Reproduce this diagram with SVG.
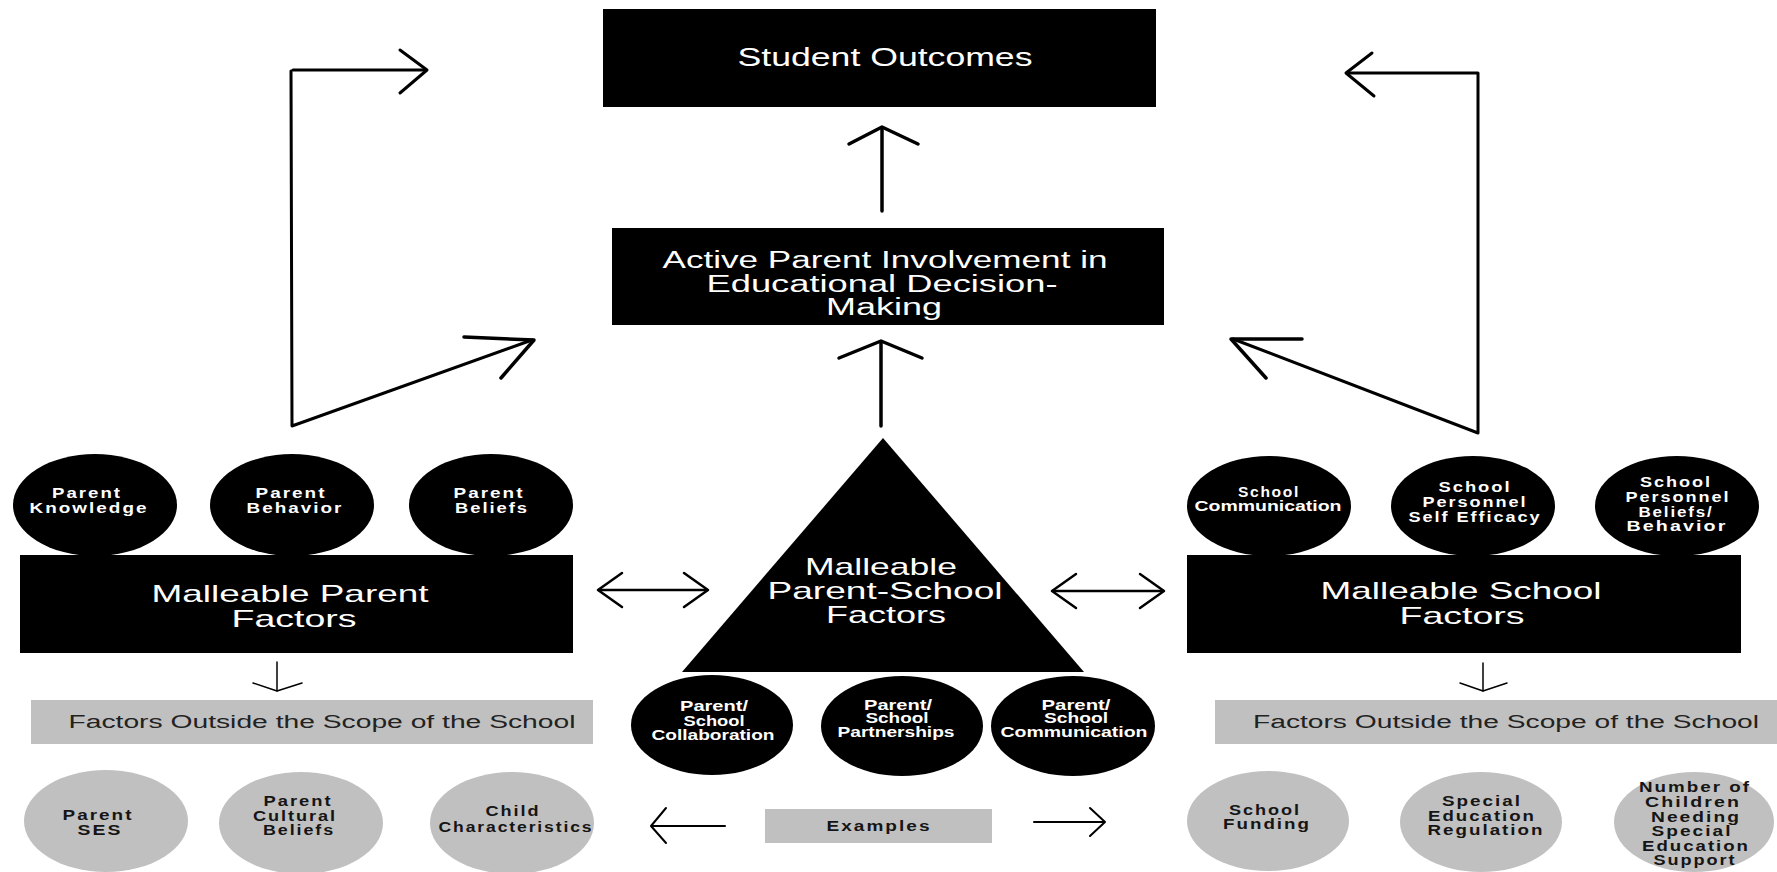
<svg xmlns="http://www.w3.org/2000/svg" width="1777" height="872" viewBox="0 0 1777 872">
<defs>
<style>
.blk{fill:#000}
.gry{fill:#c0c0c0}
.big{font-family:"Liberation Sans",Arial,sans-serif;fill:#fff;text-anchor:middle}
.f26{font-size:26px}
.f24{font-size:24px}
.f23{font-size:23px}
.sm{font-family:"Liberation Sans",Arial,sans-serif;font-size:14px;font-weight:bold;fill:#fff;text-anchor:middle}
.sp{letter-spacing:1.5px}
.gt{font-family:"Liberation Sans",Arial,sans-serif;font-size:14px;font-weight:bold;fill:#151515;text-anchor:middle;letter-spacing:1.5px}
.gl{font-family:"Liberation Sans",Arial,sans-serif;font-size:18px;fill:#222;text-anchor:middle}
.ln{stroke:#000;fill:none;stroke-linecap:round;stroke-linejoin:round}
.w35{stroke-width:3.5}
.w3{stroke-width:3}
.w25{stroke-width:2.5}
.w2{stroke-width:2}
.w15{stroke-width:1.5}
</style>
</defs>
<rect width="1777" height="872" fill="#fff"/>

<g id="connectors">
  <line class="ln w35" x1="882" y1="211" x2="882" y2="129"/>
  <polyline class="ln w35" points="849,144 882,127 918,144"/>
  <line class="ln w35" x1="881" y1="426" x2="881" y2="343"/>
  <polyline class="ln w35" points="839,358 881,341 922,358"/>
  <polyline class="ln w3" points="425,70 293,70"/>
  <polyline class="ln w3" points="291,71 292,426 532,340"/>
  <polyline class="ln w3" points="400,50 427,70 400,93"/>
  <polyline class="ln w35" points="464,337 534,340 501,378"/>
  <polyline class="ln w3" points="1348,73 1478,73 1478,433 1233,339"/>
  <polyline class="ln w3" points="1372,53 1346,73 1374,96"/>
  <polyline class="ln w35" points="1302,339 1231,339 1266,378"/>
  <line class="ln w25" x1="599" y1="590" x2="707" y2="590"/>
  <polyline class="ln w25" points="622,573 598,590 622,607"/>
  <polyline class="ln w25" points="684,573 708,590 684,607"/>
  <line class="ln w25" x1="1053" y1="591" x2="1163" y2="591"/>
  <polyline class="ln w25" points="1076,574 1052,591 1076,608"/>
  <polyline class="ln w25" points="1140,574 1164,591 1140,608"/>
  <line class="ln w15" x1="277" y1="662" x2="277" y2="691"/>
  <polyline class="ln w15" points="253,683 277,691 302,683"/>
  <line class="ln w15" x1="1483" y1="663" x2="1483" y2="691"/>
  <polyline class="ln w15" points="1460,683 1483,691 1507,683"/>
  <line class="ln w2" x1="652" y1="826" x2="725" y2="826"/>
  <polyline class="ln w2" points="666,808 651,826 666,843"/>
  <line class="ln w2" x1="1034" y1="822" x2="1104" y2="822"/>
  <polyline class="ln w2" points="1090,808 1105,822 1090,836"/>
</g>

<g id="student-outcomes">
  <rect class="blk" x="603" y="9" width="553" height="98"/>
  <text class="big f26" x="885" y="66" textLength="295" lengthAdjust="spacingAndGlyphs">Student Outcomes</text>
</g>

<g id="active-involvement">
  <rect class="blk" x="612" y="228" width="552" height="97"/>
  <text class="big f23" x="885" y="268" textLength="445" lengthAdjust="spacingAndGlyphs">Active Parent Involvement in</text>
  <text class="big f23" x="882" y="292" textLength="351" lengthAdjust="spacingAndGlyphs">Educational Decision-</text>
  <text class="big f23" x="884" y="315" textLength="116" lengthAdjust="spacingAndGlyphs">Making</text>
</g>

<g id="parent-school-factors">
  <polygon class="blk" points="883,438 682,672 1084,672"/>
  <text class="big f24" x="881" y="575" textLength="152" lengthAdjust="spacingAndGlyphs">Malleable</text>
  <text class="big f24" x="885" y="599" textLength="235" lengthAdjust="spacingAndGlyphs">Parent-School</text>
  <text class="big f24" x="886" y="623" textLength="120" lengthAdjust="spacingAndGlyphs">Factors</text>
</g>

<g id="parent-factors">
  <rect class="blk" x="20" y="555" width="553" height="98"/>
  <text class="big f24" x="290" y="602" textLength="277" lengthAdjust="spacingAndGlyphs">Malleable Parent</text>
  <text class="big f24" x="294" y="627" textLength="125" lengthAdjust="spacingAndGlyphs">Factors</text>
</g>

<g id="parent-knowledge">
  <ellipse class="blk" cx="95" cy="505" rx="82" ry="51"/>
  <text class="sm sp" x="87" y="498" textLength="70" lengthAdjust="spacingAndGlyphs">Parent</text>
  <text class="sm sp" x="89" y="513" textLength="119" lengthAdjust="spacingAndGlyphs">Knowledge</text>
</g>
<g id="parent-behavior">
  <ellipse class="blk" cx="292" cy="505" rx="82" ry="51"/>
  <text class="sm sp" x="291" y="498" textLength="71" lengthAdjust="spacingAndGlyphs">Parent</text>
  <text class="sm sp" x="295" y="513" textLength="97" lengthAdjust="spacingAndGlyphs">Behavior</text>
</g>
<g id="parent-beliefs">
  <ellipse class="blk" cx="491" cy="505" rx="82" ry="51"/>
  <text class="sm sp" x="489" y="498" textLength="71" lengthAdjust="spacingAndGlyphs">Parent</text>
  <text class="sm sp" x="492" y="513" textLength="74" lengthAdjust="spacingAndGlyphs">Beliefs</text>
</g>

<g id="school-factors">
  <rect class="blk" x="1187" y="555" width="554" height="98"/>
  <text class="big f24" x="1461" y="599" textLength="281" lengthAdjust="spacingAndGlyphs">Malleable School</text>
  <text class="big f24" x="1462" y="624" textLength="125" lengthAdjust="spacingAndGlyphs">Factors</text>
</g>

<g id="school-communication">
  <ellipse class="blk" cx="1269" cy="506" rx="82" ry="50"/>
  <text class="sm sp" x="1269" y="497" textLength="62" lengthAdjust="spacingAndGlyphs">School</text>
  <text class="sm" x="1268" y="511" textLength="147" lengthAdjust="spacingAndGlyphs">Communication</text>
</g>
<g id="school-self-efficacy">
  <ellipse class="blk" cx="1473" cy="506" rx="82" ry="50"/>
  <text class="sm sp" x="1475" y="492" textLength="73" lengthAdjust="spacingAndGlyphs">School</text>
  <text class="sm sp" x="1475" y="507" textLength="105" lengthAdjust="spacingAndGlyphs">Personnel</text>
  <text class="sm sp" x="1475" y="522" textLength="133" lengthAdjust="spacingAndGlyphs">Self Efficacy</text>
</g>
<g id="school-beliefs-behavior">
  <ellipse class="blk" cx="1677" cy="506" rx="82" ry="50"/>
  <text class="sm sp" x="1676" y="487" textLength="72" lengthAdjust="spacingAndGlyphs">School</text>
  <text class="sm sp" x="1678" y="502" textLength="105" lengthAdjust="spacingAndGlyphs">Personnel</text>
  <text class="sm sp" x="1676" y="517" textLength="75" lengthAdjust="spacingAndGlyphs">Beliefs/</text>
  <text class="sm sp" x="1677" y="531" textLength="101" lengthAdjust="spacingAndGlyphs">Behavior</text>
</g>

<g id="ps-collaboration">
  <ellipse class="blk" cx="712" cy="725" rx="81" ry="50"/>
  <text class="sm" x="714" y="711" textLength="68" lengthAdjust="spacingAndGlyphs">Parent/</text>
  <text class="sm" x="714" y="726" textLength="61" lengthAdjust="spacingAndGlyphs">School</text>
  <text class="sm" x="713" y="740" textLength="123" lengthAdjust="spacingAndGlyphs">Collaboration</text>
</g>
<g id="ps-partnerships">
  <ellipse class="blk" cx="902" cy="726" rx="81" ry="50"/>
  <text class="sm" x="898" y="710" textLength="68" lengthAdjust="spacingAndGlyphs">Parent/</text>
  <text class="sm" x="897" y="723" textLength="63" lengthAdjust="spacingAndGlyphs">School</text>
  <text class="sm" x="896" y="737" textLength="117" lengthAdjust="spacingAndGlyphs">Partnerships</text>
</g>
<g id="ps-communication">
  <ellipse class="blk" cx="1073" cy="726" rx="82" ry="50"/>
  <text class="sm" x="1076" y="710" textLength="69" lengthAdjust="spacingAndGlyphs">Parent/</text>
  <text class="sm" x="1076" y="723" textLength="64" lengthAdjust="spacingAndGlyphs">School</text>
  <text class="sm" x="1074" y="737" textLength="147" lengthAdjust="spacingAndGlyphs">Communication</text>
</g>

<g id="outside-parent">
  <rect class="gry" x="31" y="700" width="562" height="44"/>
  <text class="gl" x="322" y="728" textLength="507" lengthAdjust="spacingAndGlyphs">Factors Outside the Scope of the School</text>
</g>
<g id="outside-school">
  <rect class="gry" x="1215" y="700" width="562" height="44"/>
  <text class="gl" x="1506" y="728" textLength="506" lengthAdjust="spacingAndGlyphs">Factors Outside the Scope of the School</text>
</g>

<g id="examples">
  <rect class="gry" x="765" y="809" width="227" height="34"/>
  <text class="gt" x="879" y="831" textLength="105" lengthAdjust="spacingAndGlyphs">Examples</text>
</g>

<g id="parent-ses">
  <ellipse class="gry" cx="106" cy="821" rx="82" ry="51"/>
  <text class="gt" x="98" y="820" textLength="71" lengthAdjust="spacingAndGlyphs">Parent</text>
  <text class="gt" x="100" y="835" textLength="45" lengthAdjust="spacingAndGlyphs">SES</text>
</g>
<g id="parent-cultural-beliefs">
  <ellipse class="gry" cx="301" cy="823" rx="82" ry="51"/>
  <text class="gt" x="298" y="806" textLength="69" lengthAdjust="spacingAndGlyphs">Parent</text>
  <text class="gt" x="295" y="821" textLength="84" lengthAdjust="spacingAndGlyphs">Cultural</text>
  <text class="gt" x="299" y="835" textLength="72" lengthAdjust="spacingAndGlyphs">Beliefs</text>
</g>
<g id="child-characteristics">
  <ellipse class="gry" cx="512" cy="823" rx="82" ry="51"/>
  <text class="gt" x="513" y="816" textLength="55" lengthAdjust="spacingAndGlyphs">Child</text>
  <text class="gt" x="516" y="832" textLength="155" lengthAdjust="spacingAndGlyphs">Characteristics</text>
</g>
<g id="school-funding">
  <ellipse class="gry" cx="1268" cy="821" rx="81" ry="50"/>
  <text class="gt" x="1265" y="815" textLength="72" lengthAdjust="spacingAndGlyphs">School</text>
  <text class="gt" x="1267" y="829" textLength="88" lengthAdjust="spacingAndGlyphs">Funding</text>
</g>
<g id="special-ed-regulation">
  <ellipse class="gry" cx="1481" cy="822" rx="81" ry="50"/>
  <text class="gt" x="1482" y="806" textLength="80" lengthAdjust="spacingAndGlyphs">Special</text>
  <text class="gt" x="1482" y="821" textLength="108" lengthAdjust="spacingAndGlyphs">Education</text>
  <text class="gt" x="1486" y="835" textLength="117" lengthAdjust="spacingAndGlyphs">Regulation</text>
</g>
<g id="children-needing-support">
  <ellipse class="gry" cx="1694" cy="822" rx="80" ry="50"/>
  <text class="gt" x="1695" y="792" textLength="112" lengthAdjust="spacingAndGlyphs">Number of</text>
  <text class="gt" x="1693" y="807" textLength="96" lengthAdjust="spacingAndGlyphs">Children</text>
  <text class="gt" x="1696" y="822" textLength="90" lengthAdjust="spacingAndGlyphs">Needing</text>
  <text class="gt" x="1692" y="836" textLength="81" lengthAdjust="spacingAndGlyphs">Special</text>
  <text class="gt" x="1696" y="851" textLength="108" lengthAdjust="spacingAndGlyphs">Education</text>
  <text class="gt" x="1695" y="865" textLength="83" lengthAdjust="spacingAndGlyphs">Support</text>
</g>
</svg>
